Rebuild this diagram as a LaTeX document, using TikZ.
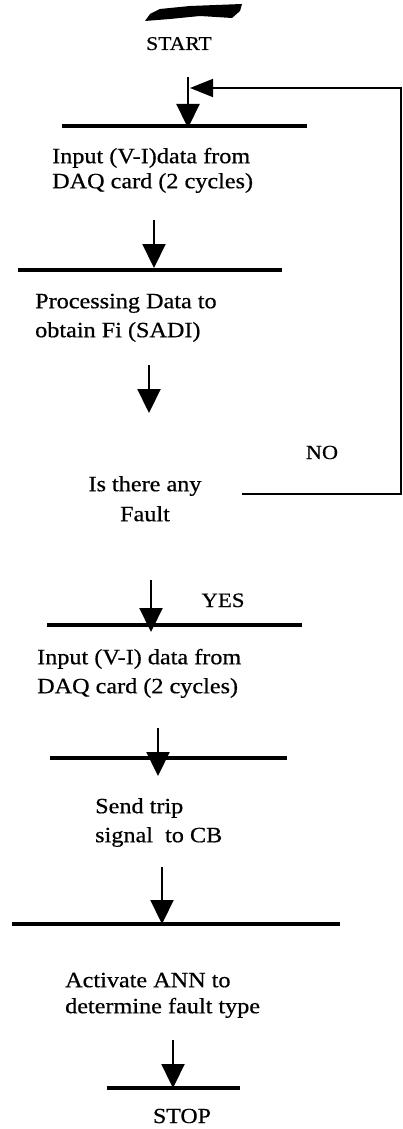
\documentclass[tikz,border=0pt]{standalone}
\usepackage{fontspec}
\setmainfont{Liberation Serif}[FakeStretch=1.11,FakeBold=0.6]
\usetikzlibrary{arrows.meta}
\begin{document}
\begin{tikzpicture}[x=1pt,y=-1pt,
  arr/.style={line width=2.2pt,-{Triangle[width=23pt,length=24pt]}},
  fbarr/.style={line width=1.8pt,-{Triangle[width=18pt,length=23pt]}},
  bar/.style={line width=3.6pt},
  txt/.style={font=\fontsize{21.8}{#1}\selectfont,align=left,inner sep=0pt,anchor=north west},
  lbl/.style={font=\fontsize{#1}{#1}\selectfont,inner sep=0pt,anchor=base}]
\useasboundingbox (0,0) rectangle (403,1129);
% start blob
\fill (145,21) -- (150,14) -- (160,9) -- (190,6) -- (242,4) -- (240,11) -- (232,18) -- (200,16) -- (170,19) -- cycle;
% texts
\node[lbl=19.5] (start) at (179,50) {START};
\node[txt=25] (p1) at (52,145.5) {\strut Input (V-I)data from\\DAQ card (2 cycles)\strut};
\node[txt=29] (p2) at (35,287.7) {\strut Processing Data to\\obtain Fi (SADI)\strut};
\node[txt=30,align=center,anchor=north] (dec) at (145,470) {\strut Is there any\\Fault\strut};
\node[lbl=20] (no) at (322,459) {NO};
\node[lbl=20.5] (yes) at (223,607) {YES};
\node[txt=29] (p4) at (37,643.7) {\strut Input (V-I) data from\\DAQ card (2 cycles)\strut};
\node[txt=29] (p5) at (95,792.7) {\strut Send trip\\signal\ \ to CB\strut};
\node[txt=26] (p6) at (65,968.8) {\strut Activate ANN to\\determine fault type\strut};
\node[lbl=21.5] (stop) at (182,1123) {STOP};
% top edges of the boxes
\draw[bar] (62,126) -- (307,126);
\draw[bar] (18,270) -- (282,270);
\draw[bar] (47,625) -- (302,625);
\draw[bar] (50,758) -- (287,758);
\draw[bar] (12,924) -- (340,924);
\draw[bar] (107,1088) -- (240,1088);
% connector end points
\coordinate (a1s) at (188,77);   \coordinate (a1e) at (188,128);
\coordinate (a2s) at (154,220);  \coordinate (a2e) at (154,268);
\coordinate (a3s) at (149,365);  \coordinate (a3e) at (149,413);
\coordinate (a4s) at (151,580);  \coordinate (a4e) at (151,632);
\coordinate (a5s) at (158,728);  \coordinate (a5e) at (158,776);
\coordinate (a6s) at (162,867);  \coordinate (a6e) at (162,924);
\coordinate (a7s) at (173,1040); \coordinate (a7e) at (173,1088);
\coordinate (nol) at (242,494);  \coordinate (nor) at (401,494);
\coordinate (fbt) at (401,88);   \coordinate (fbe) at (190,88);
% arrows
\draw[arr] (a1s) -- (a1e);
\draw[arr] (a2s) -- (a2e);
\draw[arr] (a3s) -- (a3e);
\draw[arr] (a4s) -- (a4e);
\draw[arr] (a5s) -- (a5e);
\draw[arr] (a6s) -- (a6e);
\draw[arr] (a7s) -- (a7e);
\draw[fbarr] (nol) -- (nor) -- (fbt) -- (fbe);
\end{tikzpicture}
\end{document}
